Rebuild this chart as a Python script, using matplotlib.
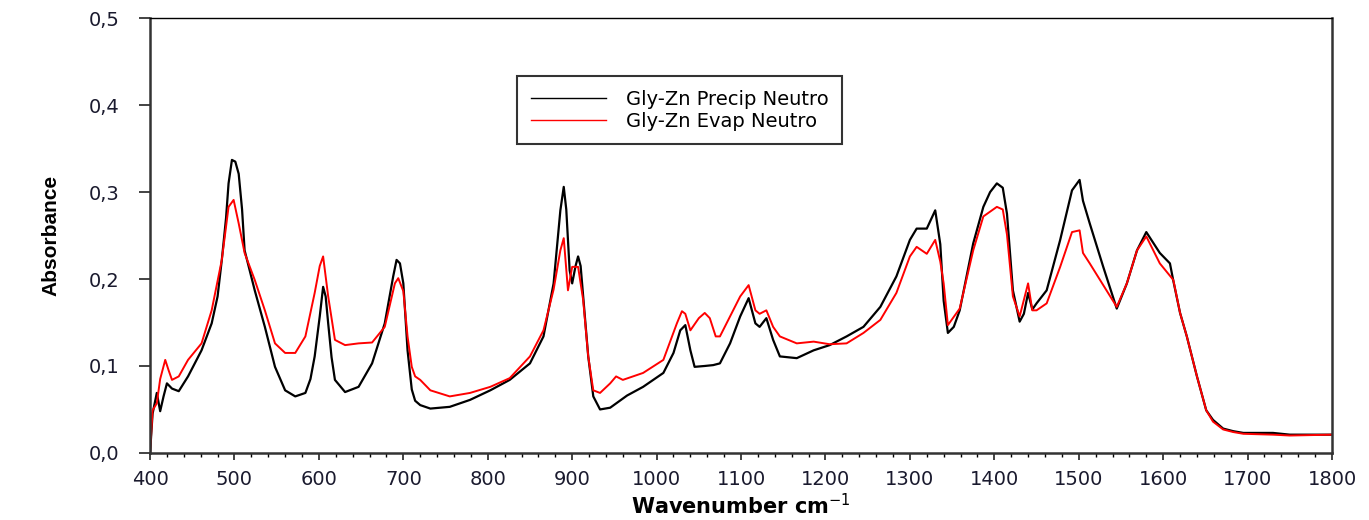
import numpy as np
import matplotlib
matplotlib.use("Agg")
import matplotlib.pyplot as plt
from matplotlib.ticker import MultipleLocator, FuncFormatter

# FTIR spectra (wavenumber, absorbance)
wn_precip = [400, 403, 408, 412, 416, 420, 426, 434, 445, 461, 473, 480, 485, 490,
             493, 497, 501, 505, 509, 512, 518, 524, 536, 548, 560, 572, 584, 590,
             595, 601, 605, 608, 611, 615, 619, 631, 647, 663, 678, 688, 692, 696,
             700, 705, 710, 714, 720, 732, 755, 779, 803, 826, 850, 866, 878, 886,
             890, 893, 897, 900, 904, 907, 910, 913, 919, 925, 933, 945, 965, 984,
             1008, 1020, 1028, 1034, 1040, 1045, 1057, 1067, 1075, 1087, 1099, 1109,
             1117, 1122, 1130, 1138, 1146, 1166, 1186, 1205, 1225, 1245, 1265, 1284,
             1300, 1308, 1320, 1330, 1336, 1340, 1345, 1352, 1359, 1375, 1387, 1395,
             1403, 1410, 1415, 1422, 1430, 1435, 1440, 1445, 1450, 1462, 1478, 1492,
             1501, 1505, 1513, 1529, 1545, 1557, 1569, 1580, 1596, 1608, 1612, 1620,
             1628, 1640, 1651, 1659, 1671, 1683, 1695, 1730, 1750, 1800]
abs_precip = [0.0, 0.045, 0.069, 0.048, 0.065, 0.080, 0.074, 0.071, 0.088, 0.118, 0.149,
              0.180, 0.222, 0.270, 0.310, 0.337, 0.335, 0.321, 0.280, 0.233, 0.210,
              0.187, 0.145, 0.099, 0.072, 0.065, 0.069, 0.085, 0.111, 0.157, 0.191,
              0.180, 0.149, 0.110, 0.084, 0.070, 0.076, 0.103, 0.149, 0.203, 0.222,
              0.218, 0.195, 0.118, 0.073, 0.060, 0.055, 0.051, 0.053, 0.061, 0.072,
              0.084, 0.103, 0.134, 0.195, 0.279, 0.306, 0.280, 0.210, 0.195, 0.215,
              0.226, 0.215, 0.180, 0.111, 0.065, 0.050, 0.052, 0.066, 0.076, 0.092,
              0.115, 0.141, 0.147, 0.118, 0.099, 0.100, 0.101, 0.103, 0.126, 0.157,
              0.178, 0.149, 0.145, 0.155, 0.130, 0.111, 0.109, 0.118, 0.124, 0.134,
              0.145, 0.168, 0.203, 0.245, 0.258, 0.258, 0.279, 0.240, 0.175, 0.138,
              0.145, 0.164, 0.241, 0.283, 0.300, 0.310, 0.305, 0.275, 0.187, 0.151,
              0.160, 0.184, 0.165, 0.172, 0.187, 0.245, 0.302, 0.314, 0.290, 0.264,
              0.214, 0.166, 0.195, 0.233, 0.254, 0.230, 0.218, 0.198, 0.161, 0.134,
              0.088, 0.049, 0.038, 0.028, 0.025, 0.023, 0.023, 0.021, 0.021]

wn_evap = [400, 403, 408, 412, 418, 422, 426, 434, 445, 461, 473, 485, 493, 499, 505,
           512, 524, 536, 548, 560, 572, 584, 595, 601, 605, 611, 619, 631, 647, 663,
           678, 690, 694, 700, 705, 710, 714, 720, 732, 755, 779, 803, 826, 850, 866,
           878, 886, 890, 895, 900, 907, 913, 919, 925, 933, 945, 952, 960, 984, 1008,
           1024, 1030, 1034, 1040, 1050, 1057, 1063, 1070, 1075, 1087, 1099, 1109,
           1117, 1122, 1130, 1138, 1146, 1166, 1186, 1205, 1225, 1245, 1265, 1284,
           1300, 1308, 1320, 1330, 1336, 1340, 1345, 1359, 1375, 1387, 1403, 1410,
           1415, 1422, 1430, 1440, 1445, 1450, 1462, 1478, 1492, 1501, 1505, 1513,
           1529, 1545, 1557, 1569, 1580, 1596, 1612, 1620, 1628, 1640, 1651, 1659,
           1671, 1683, 1695, 1730, 1750, 1800]
abs_evap = [0.0, 0.049, 0.057, 0.085, 0.107, 0.095, 0.084, 0.088, 0.107, 0.126, 0.164,
            0.222, 0.283, 0.291, 0.264, 0.230, 0.199, 0.164, 0.126, 0.115, 0.115,
            0.134, 0.184, 0.215, 0.226, 0.180, 0.130, 0.124, 0.126, 0.127, 0.145,
            0.195, 0.201, 0.186, 0.134, 0.099, 0.088, 0.084, 0.072, 0.065, 0.069,
            0.076, 0.086, 0.111, 0.141, 0.188, 0.233, 0.247, 0.187, 0.214, 0.214,
            0.176, 0.111, 0.072, 0.069, 0.080, 0.088, 0.084, 0.092, 0.107, 0.149,
            0.163, 0.160, 0.141, 0.155, 0.161, 0.155, 0.134, 0.134, 0.157, 0.180,
            0.193, 0.164, 0.160, 0.164, 0.145, 0.134, 0.126, 0.128, 0.125, 0.126,
            0.138, 0.153, 0.184, 0.226, 0.237, 0.229, 0.245, 0.220, 0.195, 0.147,
            0.166, 0.233, 0.272, 0.283, 0.280, 0.251, 0.180, 0.157, 0.195, 0.164,
            0.164, 0.172, 0.214, 0.254, 0.256, 0.230, 0.218, 0.193, 0.168, 0.195,
            0.233, 0.249, 0.218, 0.199, 0.161, 0.134, 0.088, 0.049, 0.036, 0.027,
            0.024, 0.022, 0.021, 0.020, 0.021]

labels = ["Gly-Zn Precip Neutro", "Gly-Zn Evap Neutro"]

fig = plt.figure(figsize=(13.69, 5.2), dpi=100)
ax = fig.add_axes([0.1096, 0.129, 0.8634, 0.836])

ax.plot(wn_precip, abs_precip, color="black", lw=1.6, label=labels[0])
ax.plot(wn_evap, abs_evap, color="red", lw=1.4, label=labels[1])

ax.set_xlim(400, 1800)
ax.set_ylim(0, 0.5)
ax.xaxis.set_major_locator(MultipleLocator(100))
ax.xaxis.set_minor_locator(MultipleLocator(20))
ax.yaxis.set_major_locator(MultipleLocator(0.1))
ax.yaxis.set_major_formatter(FuncFormatter(lambda v, p: f"{v:.1f}".replace(".", ",")))

ax.tick_params(axis="x", which="major", length=5, width=1.2, pad=7,
               labelsize=14, colors="#222222")
ax.tick_params(axis="x", which="minor", length=3, width=1.0)
ax.tick_params(axis="y", which="major", length=8, width=1.2, pad=14,
               labelsize=14, colors="#222222")
for lab in ax.get_xticklabels() + ax.get_yticklabels():
    lab.set_color("#1a1a2e")

for side in ["left", "bottom", "right"]:
    ax.spines[side].set_linewidth(1.8)
    ax.spines[side].set_color("#333333")
ax.spines["top"].set_linewidth(1.0)

ax.set_xlabel("Wavenumber cm$^{-1}$", fontsize=15, fontweight="bold", labelpad=3)
ax.set_ylabel("Absorbance", fontsize=15, family="Liberation Sans",
              fontweight="bold", labelpad=20)

leg = ax.legend(loc="upper left", bbox_to_anchor=(517 / 1369, 1 - 76 / 520),
                bbox_transform=fig.transFigure, fontsize=14, frameon=True,
                fancybox=False, handlelength=3.9, handletextpad=1.0,
                labelspacing=0.15, borderpad=0.7, borderaxespad=0)
leg.get_frame().set_edgecolor("black")
leg.get_frame().set_linewidth(1.5)
for line in leg.get_lines():
    line.set_linewidth(1.0)

plt.savefig("out.png", dpi=100, facecolor="white")
